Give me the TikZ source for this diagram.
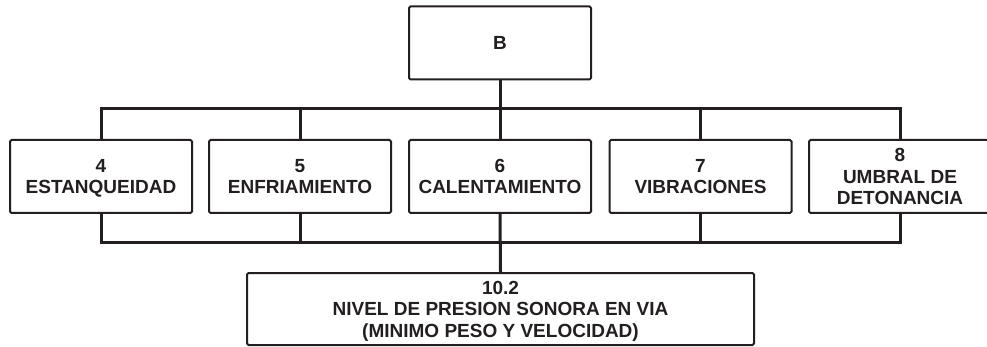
\documentclass[tikz,border=0pt]{standalone}
\usepackage{fontspec}
\setmainfont{Liberation Sans}
\definecolor{ink}{HTML}{231F20}
\begin{document}
\begin{tikzpicture}[x=1pt,y=-1pt,
  box/.style={draw=ink, line width=2pt, rounded corners=1.5pt, inner sep=0pt,
    align=center, text=ink, font=\bfseries\fontsize{19}{21.5}\selectfont,
    minimum width=182pt, minimum height=73pt},
  wire/.style={draw=ink, line width=3pt}]
\clip (0,0) rectangle (987,347);
\fill[white] (0,0) rectangle (987,347);
\node[box] (B) at (500,43) {B};
\node[box] (c4) at (101,176.5) {4\\ESTAN\smash{Q}UEIDAD};
\node[box] (c5) at (300,176.5) {5\\ENFRIAMIENTO};
\node[box] (c6) at (500,176.5) {6\\CALENTAMIENTO};
\node[box] (c7) at (700.5,176.5) {7\\VIBRACIONES};
\node[box] (c8) at (900,176.5) {8\\UMBRAL DE\\DETONANCIA};
\node[box, minimum width=507pt, minimum height=72pt] (N) at (500.5,309) {10.2\\NIVEL DE PRESION SONORA EN VIA\\\smash{(}MINIMO PESO Y VELOCIDAD\smash{)}};
\coordinate (tb) at (500,109);
\coordinate (bb) at (500,243);
\draw[wire] (B.south) -- (c6.north);
\draw[wire] (c4.north) |- (c8.north |- tb) -- (c8.north);
\draw[wire] (c5.north) -- (c5.north |- tb);
\draw[wire] (c7.north) -- (c7.north |- tb);
\draw[wire] (c4.south) |- (c8.south |- bb) -- (c8.south);
\draw[wire] (c5.south) -- (c5.south |- bb);
\draw[wire] (c7.south) -- (c7.south |- bb);
\draw[wire] (c6.south) -- (N.north);
\end{tikzpicture}
\end{document}
